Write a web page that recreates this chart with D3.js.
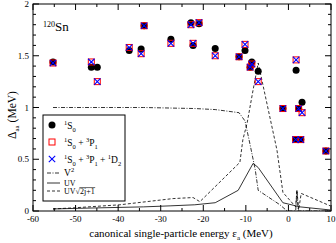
<!DOCTYPE html>
<html>
<head>
<meta charset="utf-8">
<script src="https://cdn.jsdelivr.net/npm/d3@7"></script>
<style>
  body { margin: 0; background: #fff; }
  text { font-family: "Liberation Serif", "DejaVu Serif", serif; }
</style>
</head>
<body>
<svg id="chart" width="336" height="243"></svg>
<script>
// level energies (MeV) and gaps (MeV) for the three interactions
const levelE   = [-55.3, -46.3, -44.9, -37.4, -34.6, -33.9, -27.6, -22.9, -22.4, -21.0, -17.2, -11.6, -10.2, -9.0, -8.6, -7.1, -1.3, 1.7, 1.8, 2.4, 2.9, 3.2, 8.8];
const gap1S0   = [1.44, 1.39, 1.39, 1.55, 1.565, 1.79, 1.66, 1.82, 1.60, 1.81, 1.57, 1.49, 1.55, 1.39, 1.44, 1.35, 0.99, 0.69, 1.36, 0.99, 0.69, 1.05, 0.58];
const gap3P1   = [1.43, 1.44, 1.25, 1.58, 1.52, 1.79, 1.62, 1.80, 1.62, 1.82, 1.50, 1.49, 1.61, 1.39, 1.42, 1.25, 0.99, 0.69, 1.46, 0.99, 0.69, 0.95, 0.58];
const gap1D2   = [1.43, 1.44, 1.25, 1.58, 1.52, 1.79, 1.62, 1.80, 1.62, 1.82, 1.50, 1.49, 1.61, 1.39, 1.42, 1.25, 0.99, 0.69, 1.46, 0.99, 0.69, 0.95, 0.58];

// occupation curves
const v2E  = [-55.3, -34, -22, -17.2, -11.6, -10.2, -9.0, -7.8, -7.1, -2.0, -0.3, 1.7, 2.0, 2.3, 9.8];
const v2   = [1.0, 1.0, 0.99, 0.98, 0.95, 0.87, 0.64, 0.40, 0.2, 0.06, 0.0, 0.0, 0.2, 0.0, 0.0];
const uvE  = [-55.3, -45, -34, -27.6, -22, -17.2, -11.8, -8.3, -7.1, -1.3, 2.7, 9.8];
const uv   = [0.02, 0.03, 0.04, 0.05, 0.06, 0.08, 0.2, 0.46, 0.42, 0.08, 0.04, 0.01];
const uvjE = [-55.3, -50.6, -39.6, -27.1, -22.4, -20.8, -11.4, -10.7, -9.7, -8.3, -7.1, -2.7, -1.3, 1.7, 2.0, 2.4, 3.0, 9.8];
const uvj  = [0.02, 0.03, 0.06, 0.12, 0.13, 0.09, 0.47, 0.69, 0.85, 1.17, 1.43, 0.59, 0.18, 0.04, 0.2, 0.01, 0.17, 0.05];

const xTicks = [-60, -50, -40, -30, -20, -10, 0, 10];
const yTicks = [0, 0.5, 1, 1.5, 2];

const svg = d3.select("#chart");
const x = d3.scaleLinear().domain([-60, 10]).range([33, 331]);
const y = d3.scaleLinear().domain([0, 2]).range([211, 4]);

svg.append("clipPath").attr("id", "clip")
  .append("rect").attr("x", 33).attr("y", 4).attr("width", 298).attr("height", 207);

// ticks on all four sides, pointing inward
const xMinor = d3.range(-60, 10.01, 5);
const yMinor = d3.range(0, 2.001, 0.1);
const axisG = svg.append("g").attr("stroke", "#000").attr("stroke-width", 1);
xMinor.forEach(v => {
  const len = Math.abs(v % 10) < 1e-6 ? 6 : 3;
  axisG.append("line").attr("x1", x(v)).attr("x2", x(v)).attr("y1", 211).attr("y2", 211 - len);
  axisG.append("line").attr("x1", x(v)).attr("x2", x(v)).attr("y1", 4).attr("y2", 4 + len);
});
yMinor.forEach(v => {
  const len = Math.abs(Math.round(v * 10) % 5) < 1e-6 ? 6 : 3;
  axisG.append("line").attr("y1", y(v)).attr("y2", y(v)).attr("x1", 33).attr("x2", 33 + len);
  axisG.append("line").attr("y1", y(v)).attr("y2", y(v)).attr("x1", 331).attr("x2", 331 - len);
});

svg.append("g").selectAll("text").data(xTicks).join("text")
  .attr("x", d => x(d)).attr("y", 222).attr("text-anchor", "middle")
  .attr("font-size", 9).text(d => d);
svg.append("g").selectAll("text").data(yTicks).join("text")
  .attr("x", 29).attr("y", d => y(d) + 3).attr("text-anchor", "end")
  .attr("font-size", 9).text(d => d);

// curves
const plot = svg.append("g").attr("clip-path", "url(#clip)");
const line = d3.line().x(d => x(d[0])).y(d => y(d[1]));
const curves = [
  { e: v2E, v: v2, dash: "4,1.5,1,1.5" },
  { e: uvE, v: uv, dash: null },
  { e: uvjE, v: uvj, dash: "3,2" }
];
curves.forEach(c => {
  plot.append("path").datum(d3.zip(c.e, c.v))
    .attr("d", line).attr("fill", "none").attr("stroke", "#000")
    .attr("stroke-width", 0.8).attr("stroke-dasharray", c.dash);
});

// markers
const crossPath = s => `M${-s},${-s}L${s},${s}M${-s},${s}L${s},${-s}`;
plot.append("g").selectAll("circle").data(d3.zip(levelE, gap1S0)).join("circle")
  .attr("cx", d => x(d[0])).attr("cy", d => y(d[1])).attr("r", 3.5).attr("fill", "#000");
plot.append("g").selectAll("rect").data(d3.zip(levelE, gap3P1)).join("rect")
  .attr("x", d => x(d[0]) - 3).attr("y", d => y(d[1]) - 3).attr("width", 6).attr("height", 6)
  .attr("fill", "none").attr("stroke", "#ff0000").attr("stroke-width", 1);
plot.append("g").selectAll("path").data(d3.zip(levelE, gap1D2)).join("path")
  .attr("transform", d => `translate(${x(d[0])},${y(d[1])})`)
  .attr("d", crossPath(3.2)).attr("stroke", "#0000ff").attr("stroke-width", 1.1).attr("fill", "none");

// frame
svg.append("rect").attr("x", 33).attr("y", 4).attr("width", 298).attr("height", 207)
  .attr("fill", "none").attr("stroke", "#000").attr("stroke-width", 1);

// nucleus label
const nuc = svg.append("text").attr("x", 43).attr("y", 31).attr("font-size", 13);
nuc.append("tspan").attr("font-size", 8).attr("dy", -4).text("120");
nuc.append("tspan").attr("dy", 4).text("Sn");

// legend
const leg = svg.append("g");
leg.append("rect").attr("x", 43).attr("y", 115).attr("width", 82).attr("height", 86)
  .attr("fill", "#fff").attr("stroke", "#000").attr("stroke-width", 1);
leg.append("circle").attr("cx", 52).attr("cy", 125).attr("r", 3.5).attr("fill", "#000");
leg.append("rect").attr("x", 49).attr("y", 139).attr("width", 6).attr("height", 6)
  .attr("fill", "none").attr("stroke", "#ff0000");
leg.append("path").attr("transform", "translate(52,159)").attr("d", crossPath(3.2))
  .attr("stroke", "#0000ff").attr("stroke-width", 1.1);

function term(t, parts, x0, yb) {
  const tx = t.append("text").attr("x", x0).attr("y", yb).attr("font-size", 9.5);
  parts.forEach(p => {
    if (p[0] === "sup") tx.append("tspan").attr("font-size", 6.5).attr("baseline-shift", "4").text(p[1]);
    else if (p[0] === "sub") tx.append("tspan").attr("font-size", 6.5).attr("baseline-shift", "-3").text(p[1]);
    else tx.append("tspan").text(p[1]);
  });
  return tx;
}
term(leg, [["sup", "1"], ["n", "S"], ["sub", "0"]], 64, 129);
term(leg, [["sup", "1"], ["n", "S"], ["sub", "0"], ["n", " + "], ["sup", "3"], ["n", "P"], ["sub", "1"]], 64, 146);
term(leg, [["sup", "1"], ["n", "S"], ["sub", "0"], ["n", " + "], ["sup", "3"], ["n", "P"], ["sub", "1"],
  ["n", " + "], ["sup", "1"], ["n", "D"], ["sub", "2"]], 64, 163);

const legLines = [
  { y: 173, dash: "4,1.5,1,1.5" },
  { y: 183, dash: null },
  { y: 191, dash: "3,2" }
];
legLines.forEach(l => {
  leg.append("line").attr("x1", 47).attr("x2", 60).attr("y1", l.y).attr("y2", l.y)
    .attr("stroke", "#000").attr("stroke-width", 0.8).attr("stroke-dasharray", l.dash);
});
term(leg, [["n", "V"], ["sup", "2"]], 64, 176);
leg.append("text").attr("x", 64).attr("y", 185.5).attr("font-size", 8).text("UV");
const sq = leg.append("text").attr("x", 64).attr("y", 194).attr("font-size", 8).text("UV\u221A");
const w0 = sq.node().getComputedTextLength();
const rad = leg.append("text").attr("x", 64 + w0).attr("y", 194).attr("font-size", 8).text("2j+1");
const w1 = rad.node().getComputedTextLength();
leg.append("line").attr("x1", 64 + w0 - 0.5).attr("x2", 64 + w0 + w1 + 0.5)
  .attr("y1", 187.6).attr("y2", 187.6).attr("stroke", "#000").attr("stroke-width", 0.6);

// axis titles
const xl = svg.append("text").attr("x", 181).attr("y", 237).attr("text-anchor", "middle").attr("font-size", 11);
xl.append("tspan").text("canonical single-particle energy \u03B5");
xl.append("tspan").attr("font-size", 7).attr("baseline-shift", "-3").text("a");
xl.append("tspan").text(" (MeV)");

const yl = svg.append("text").attr("transform", "translate(16,115) rotate(-90)")
  .attr("text-anchor", "middle").attr("font-size", 11.5);
yl.append("tspan").text("\u0394");
yl.append("tspan").attr("font-size", 7).attr("baseline-shift", "-3").text("aa");
yl.append("tspan").text(" (MeV)");
</script>
</body>
</html>
